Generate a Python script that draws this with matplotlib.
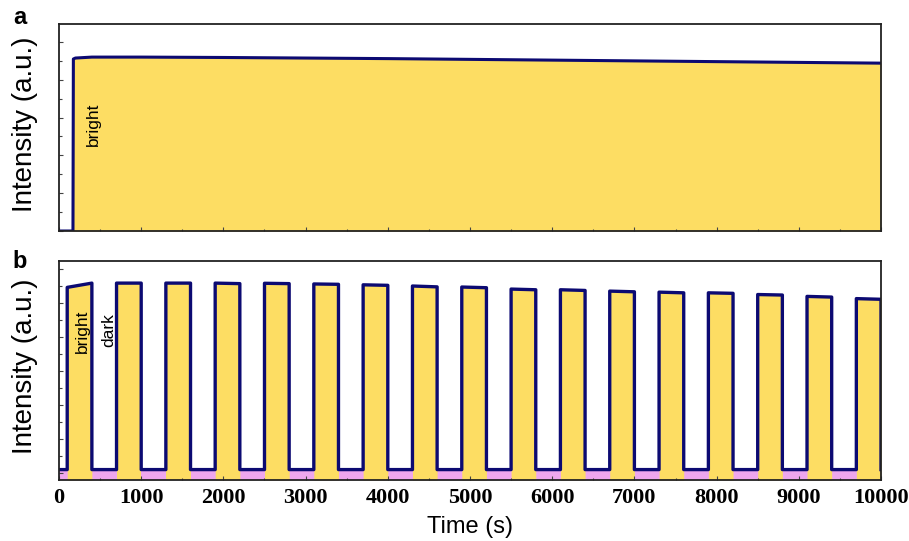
import matplotlib
matplotlib.use('Agg')
import matplotlib.pyplot as plt
from matplotlib.ticker import MultipleLocator, NullFormatter

# ---- panel a: continuous illumination ----
a_time = [0, 170, 175, 200, 400, 1000, 2000, 3000, 4000, 5000, 6000, 7000, 8000, 9000, 10000]
a_int = [0.0, 0.0, 9.1, 9.15, 9.2, 9.2, 9.18, 9.15, 9.12, 9.08, 9.04, 9.0, 8.96, 8.92, 8.88]

# ---- panel b: bright / dark cycling ----
b_on = [100, 700, 1300, 1900, 2500, 3100, 3700, 4300, 4900, 5500, 6100, 6700, 7300, 7900, 8500, 9100, 9700]
b_off = [400, 1000, 1600, 2200, 2800, 3400, 4000, 4600, 5200, 5800, 6400, 7000, 7600, 8200, 8800, 9400, 10000]
b_peak_start = [10.9, 11.15, 11.15, 11.15, 11.14, 11.1, 11.05, 10.98, 10.92, 10.8, 10.76, 10.68, 10.62, 10.58, 10.48, 10.37, 10.24]
b_peak_end = [11.15, 11.15, 11.15, 11.12, 11.12, 11.08, 11.02, 10.93, 10.88, 10.76, 10.72, 10.64, 10.58, 10.55, 10.45, 10.33, 10.2]
b_dark = 0.2

yellow = '#FDDD63'
navy = '#0C0A72'
pink = '#EEA6EE'

fig = plt.figure(figsize=(9.09, 5.41), dpi=100)
ax_a = fig.add_axes([0.0649, 0.573, 0.9043, 0.3826])
ax_b = fig.add_axes([0.0649, 0.1128, 0.9043, 0.4048])


def style_axis(ax):
    ax.set_xlim(0, 10000)
    ax.xaxis.set_major_locator(MultipleLocator(1000))
    ax.xaxis.set_minor_locator(MultipleLocator(500))
    ax.yaxis.set_major_locator(MultipleLocator(2))
    ax.yaxis.set_minor_locator(MultipleLocator(1))
    ax.yaxis.set_major_formatter(NullFormatter())
    ax.tick_params(which='both', direction='in', top=False, right=False, color='#444444')
    ax.tick_params(which='major', length=3.2, width=0.8)
    ax.tick_params(which='minor', length=1.8, width=0.8)
    for s in ax.spines.values():
        s.set_linewidth(1.3)
        s.set_color('#222222')


# panel a
ax_a.fill_between(a_time, a_int, 0, color=yellow, lw=0)
ax_a.plot(a_time, a_int, color=navy, lw=2.2, solid_joinstyle='round')
ax_a.set_ylim(0, 10.95)
style_axis(ax_a)
ax_a.xaxis.set_major_formatter(NullFormatter())
ax_a.text(420, 5.65, 'bright', rotation=90, ha='center', va='center', fontsize=12.5,
          family='Liberation Sans')

# panel b
ybot = -0.41
ax_b.fill_between([0, 10000], [b_dark, b_dark], ybot, color=pink, lw=0)
xs, ys = [0], [b_dark]
for s, e, h0, h1 in zip(b_on, b_off, b_peak_start, b_peak_end):
    ax_b.fill_between([s, e], [h0, h1], ybot, color=yellow, lw=0)
    xs += [s, s, e, e]
    ys += [b_dark, h0, h1, b_dark]
ax_b.plot(xs, ys, color=navy, lw=2.4, solid_joinstyle='round')
ax_b.set_ylim(ybot, 12.45)
style_axis(ax_b)
for lab in ax_b.get_xticklabels():
    lab.set_fontfamily('Liberation Serif')
    lab.set_fontweight('bold')
    lab.set_fontsize(16)
ax_b.tick_params(axis='x', pad=6)
ax_b.text(290, 8.3, 'bright', rotation=90, ha='center', va='center', fontsize=12.5,
          family='Liberation Sans')
ax_b.text(600, 8.4, 'dark', rotation=90, ha='center', va='center', fontsize=12.5,
          family='Liberation Sans')

# labels
for yc in [1 - 124 / 541, 1 - 366 / 541]:
    fig.text(25 / 909, yc, 'Intensity (a.u.)', rotation=90, ha='center', va='center',
             fontsize=20, family='Liberation Sans')
fig.text(470 / 909, 1 - 527 / 541, 'Time (s)', ha='center', va='center', fontsize=17,
         family='Liberation Sans')
fig.text(20 / 909, 1 - 18 / 541, 'a', ha='center', va='center', fontsize=17,
         fontweight='bold', family='Liberation Sans')
fig.text(20 / 909, 1 - 262 / 541, 'b', ha='center', va='center', fontsize=17,
         fontweight='bold', family='Liberation Sans')

fig.savefig('out.png', dpi=100)
